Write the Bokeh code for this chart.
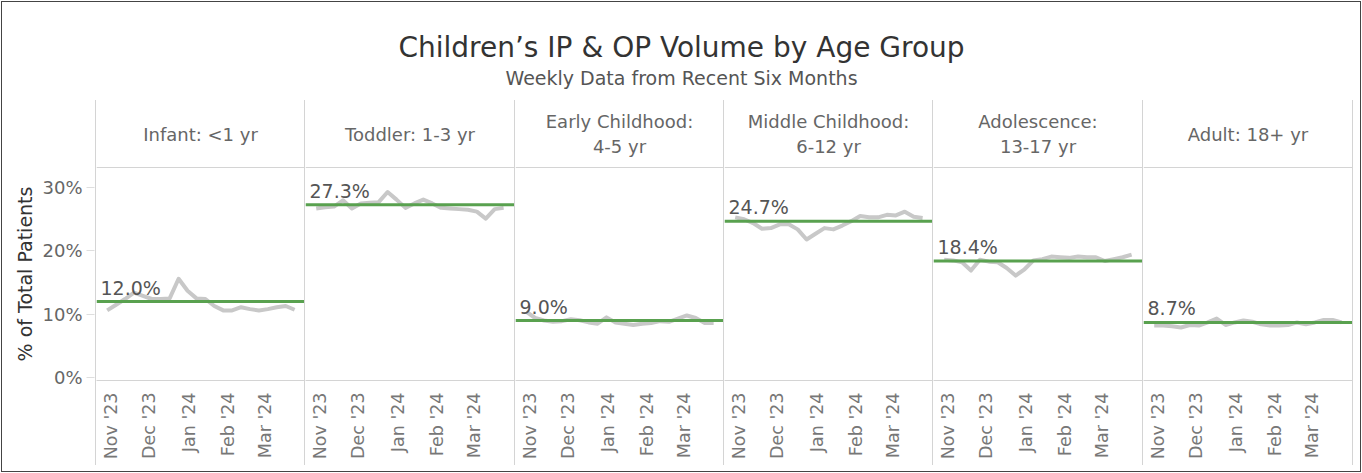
import numpy as np
import pandas as pd
from bokeh.plotting import figure
from bokeh.layouts import row, column
from bokeh.models import (Range1d, Span, FixedTicker, PrintfTickFormatter,
                          DatetimeTickFormatter, Spacer)
from bokeh.core.properties import value
from bokeh.embed import file_html
from bokeh.resources import INLINE

# ---------------- data ----------------
week_dates = ["2023-10-29", "2023-11-05", "2023-11-12", "2023-11-19", "2023-11-26",
              "2023-12-03", "2023-12-10", "2023-12-17", "2023-12-24", "2023-12-31",
              "2024-01-07", "2024-01-14", "2024-01-21", "2024-01-28", "2024-02-04",
              "2024-02-11", "2024-02-18", "2024-02-25", "2024-03-03", "2024-03-10",
              "2024-03-17", "2024-03-24"]

group_labels = ["Infant: <1 yr", "Toddler: 1-3 yr", "Early Childhood:\n4-5 yr",
                "Middle Childhood:\n6-12 yr", "Adolescence:\n13-17 yr", "Adult: 18+ yr"]

infant = [10.6, 11.5, 12.4, 13.4, 12.9, 12.4, 12.4, 12.5, 15.6, 13.7, 12.5,
          12.4, 11.3, 10.6, 10.6, 11.1, 10.8, 10.6, 10.8, 11.1, 11.3, 10.7]
toddler = [26.7, 26.9, 27.0, 28.0, 26.7, 27.5, 27.6, 27.7, 29.3, 28.1, 26.8,
           27.5, 28.1, 27.5, 26.8, 26.7, 26.6, 26.5, 26.2, 25.1, 26.6, 26.8]
early = [10.4, 9.4, 9.0, 8.8, 8.9, 9.2, 9.05, 8.7, 8.5, 9.5, 8.7,
         8.5, 8.3, 8.5, 8.6, 8.9, 8.8, 9.3, 9.8, 9.4, 8.6, 8.6]
middle = [25.3, 25.0, 24.4, 23.5, 23.6, 24.2, 24.2, 23.4, 21.8, 22.7, 23.6,
          23.4, 24.0, 24.7, 25.5, 25.3, 25.3, 25.7, 25.6, 26.2, 25.4, 25.2]
adolescence = [18.6, 18.5, 18.2, 16.9, 18.6, 18.3, 18.2, 17.3, 16.1, 17.1, 18.5,
               18.7, 19.1, 19.0, 18.9, 19.1, 19.0, 19.0, 18.4, 18.7, 19.0, 19.4]
adult = [8.2, 8.2, 8.1, 7.9, 8.3, 8.2, 8.7, 9.3, 8.3, 8.7, 9.0,
         8.8, 8.4, 8.2, 8.2, 8.3, 8.7, 8.4, 8.7, 9.1, 9.1, 8.7]

averages = [12.0, 27.3, 9.0, 24.7, 18.4, 8.7]

month_ticks = ["2023-11-01", "2023-12-01", "2024-01-01", "2024-02-01", "2024-03-01"]
y_ticks = [0, 10, 20, 30]

TITLE = "Children\u2019s IP & OP Volume by Age Group"
SUBTITLE = "Weekly Data from Recent Six Months"
Y_LABEL = "% of Total Patients"

series = [infant, toddler, early, middle, adolescence, adult]

# ---------------- styling / layout constants ----------------
FONT = "DejaVu Sans"
TOTAL_W = 1362
TITLE_H = 100
HEADER_H = 67
PLOT_H = 213
AXIS_H = 93
PANEL_H = HEADER_H + PLOT_H + AXIS_H
SEP_H = 365
PX_PER_UNIT = 6.33
Y0 = -0.474
Y_PLOT_TOP = Y0 + PLOT_H / PX_PER_UNIT
Y_FRAME_TOP = Y_PLOT_TOP + HEADER_H / PX_PER_UNIT
YAX_W = 95
panel_widths = [208, 209, 208, 208, 209, 209]
PX_PER_DAY = 1.275
FIRST_PT_PX = 10.7
SEP_COLOR = "#d4d4d4"
GRAY = "#c8c8c8"
GREEN = "#59a14f"

dates = pd.to_datetime(week_dates)
tick_ms = [pd.Timestamp(d).value / 1e6 for d in month_ticks]
day_ms = 86400000.0
first_ms = dates[0].value / 1e6


def sep():
    return Spacer(width=1, height=SEP_H, styles={"background-color": SEP_COLOR})


def clear_bg(fig):
    fig.background_fill_color = None
    fig.border_fill_color = None
    fig.outline_line_color = None
    fig.grid.visible = False


# ---------------- title ----------------
t = figure(width=TOTAL_W, height=TITLE_H, x_range=Range1d(0, TOTAL_W),
           y_range=Range1d(TITLE_H, 0), toolbar_location=None, output_backend="svg",
           x_axis_location=None, y_axis_location=None, min_border=0)
clear_bg(t)
t.text(x=[TOTAL_W / 2], y=[47], text=[TITLE], text_align="center", text_baseline="middle",
       text_font=value(FONT), text_font_size="28px", text_color="#333333")
t.text(x=[TOTAL_W / 2], y=[77], text=[SUBTITLE], text_align="center", text_baseline="middle",
       text_font=value(FONT), text_font_size="19px", text_color="#555555")

# ---------------- y axis figure ----------------
yf = figure(width=YAX_W, height=PLOT_H + AXIS_H, x_range=Range1d(0, 1),
            y_range=Range1d(Y0, Y_PLOT_TOP),
            toolbar_location=None, output_backend="svg", x_axis_location=None,
            min_border_left=YAX_W - 1, min_border_right=0, min_border_top=0,
            min_border_bottom=AXIS_H)
clear_bg(yf)
ya = yf.yaxis[0]
ya.ticker = FixedTicker(ticks=y_ticks)
ya.formatter = PrintfTickFormatter(format="%d%%")
ya.axis_label = Y_LABEL
ya.axis_label_text_font = FONT
ya.axis_label_text_font_style = "normal"
ya.axis_label_text_font_size = "19px"
ya.axis_label_text_color = "#333333"
ya.axis_label_standoff = 3
ya.axis_line_color = None
ya.major_tick_out = 8
ya.major_tick_in = 0
ya.major_tick_line_color = "#dedede"
ya.minor_tick_line_color = None
ya.major_label_standoff = 4
ya.major_label_text_font = FONT
ya.major_label_text_font_size = "18px"
ya.major_label_text_color = "#666666"

ycol = column(Spacer(width=YAX_W, height=HEADER_H), yf)

children = [ycol, sep()]

# ---------------- panels ----------------
fmt = "%b '%y"
for label, vals, avg, w in zip(group_labels, series, averages, panel_widths):
    x0 = first_ms - FIRST_PT_PX / PX_PER_DAY * day_ms
    x1 = x0 + w / PX_PER_DAY * day_ms
    p = figure(width=w, height=PANEL_H, x_range=Range1d(x0, x1),
               y_range=Range1d(Y0, Y_FRAME_TOP), x_axis_type="datetime",
               toolbar_location=None, output_backend="svg", y_axis_location=None,
               min_border_left=0, min_border_right=0, min_border_top=0,
               min_border_bottom=AXIS_H)
    clear_bg(p)
    xa = p.xaxis[0]
    xa.ticker = FixedTicker(ticks=tick_ms)
    xa.formatter = DatetimeTickFormatter(milliseconds=fmt, seconds=fmt, minsec=fmt,
                                         minutes=fmt, hourmin=fmt, hours=fmt, days=fmt,
                                         months=fmt, years=fmt)
    xa.major_label_orientation = np.pi / 2
    xa.major_tick_line_color = None
    xa.minor_tick_line_color = None
    xa.axis_line_color = SEP_COLOR
    xa.major_label_standoff = 6
    xa.major_label_text_font = FONT
    xa.major_label_text_font_size = "17.5px"
    xa.major_label_text_color = "#777777"

    # header band separator line
    p.add_layout(Span(location=Y_PLOT_TOP, dimension="width", line_color=SEP_COLOR,
                      line_width=1))
    # header text
    p.text(x=[(x0 + x1) / 2], y=[(Y_PLOT_TOP + Y_FRAME_TOP) / 2], text=[label],
           text_align="center", text_baseline="middle", text_font=value(FONT),
           text_font_size="18px", text_color="#666666", text_line_height=1.2)

    # weekly series
    p.line(x=dates, y=vals, line_color=GRAY, line_width=4, line_join="round")
    # average line
    p.add_layout(Span(location=avg, dimension="width", line_color=GREEN, line_width=3))
    p.text(x=[x0], y=[avg], text=["%.1f%%" % avg], x_offset=4, y_offset=-3,
           text_align="left", text_baseline="bottom", text_font=value(FONT),
           text_font_size="19px", text_color="#555555")

    children.append(p)
    children.append(sep())

children.append(Spacer(width=TOTAL_W - YAX_W - 7 - sum(panel_widths), height=SEP_H))

layout = column(t, row(*children),
                styles={"outline": "1px solid #444444", "outline-offset": "-2px"})

open("out.html", "w").write(file_html(layout, INLINE))
